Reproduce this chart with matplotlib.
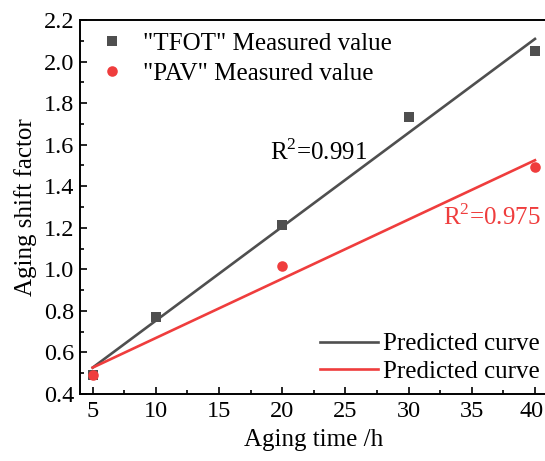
import matplotlib
matplotlib.use("Agg")
import matplotlib.pyplot as plt
from matplotlib.ticker import MultipleLocator, FormatStrFormatter, FuncFormatter

plt.rcParams['font.family'] = ['Liberation Serif', 'DejaVu Serif']
plt.rcParams['mathtext.fontset'] = 'custom'
plt.rcParams['mathtext.rm'] = 'Liberation Serif'

# Measured aging shift factors
tfot_time = [5, 10, 20, 30, 40]
tfot_value = [0.492, 0.772, 1.213, 1.733, 2.051]
pav_time = [5, 20, 40]
pav_value = [0.492, 1.016, 1.493]

# Fitted (predicted) lines, endpoints
fit_time = [5, 40]
tfot_fit = [0.527, 2.109]
pav_fit = [0.527, 1.525]

tfot_r2 = "0.991"
pav_r2 = "0.975"

GRAY = '#4f4f4f'
RED = '#ef3d3d'
FS = 18
TICK_FS = 17.5
X_MAX_TICK = 40

fig = plt.figure(figsize=(5.45, 4.61), dpi=100)
ax = fig.add_axes([80 / 545, 67 / 461, 467.6 / 545, 374 / 461])

l1, = ax.plot(fit_time, tfot_fit, color=GRAY, lw=1.9, zorder=2)
l2, = ax.plot(fit_time, pav_fit, color=RED, lw=1.9, zorder=2)
s1, = ax.plot(tfot_time, tfot_value, ls='none', marker='s', ms=6.6, mew=0,
              color=GRAY, zorder=3)
s2, = ax.plot(pav_time, pav_value, ls='none', marker='o', ms=7.6, mew=0,
              color=RED, zorder=3)

ax.set_xlim(4, 41)
ax.set_ylim(0.4, 2.2)
ax.xaxis.set_major_locator(MultipleLocator(5))
ax.xaxis.set_minor_locator(MultipleLocator(2.5))
ax.yaxis.set_major_locator(MultipleLocator(0.2))
ax.yaxis.set_minor_locator(MultipleLocator(0.1))
ax.yaxis.set_major_formatter(FormatStrFormatter('%.1f'))
# last x label is drawn separately, nudged left to stay inside the figure
ax.xaxis.set_major_formatter(
    FuncFormatter(lambda v, p: '' if abs(v - X_MAX_TICK) < 1e-6 else f'{v:g}'))
ax.tick_params(which='both', direction='in', labelsize=TICK_FS, width=1.2,
               top=False, right=False)
ax.tick_params(which='major', length=5)
ax.tick_params(which='minor', length=3)
ax.tick_params(axis='x', pad=5)
ax.tick_params(axis='y', pad=4)
for sp in ax.spines.values():
    sp.set_linewidth(1.4)

ax.annotate(f'{X_MAX_TICK}', xy=(X_MAX_TICK, 0),
            xycoords=('data', 'axes fraction'), xytext=(-2.5, -5),
            textcoords='offset points', ha='center', va='top',
            fontsize=TICK_FS)

ax.set_xlabel('Aging time /h', fontsize=FS, labelpad=5)
ax.set_ylabel('Aging shift factor', fontsize=FS, labelpad=5)

ax.text(19.0, 1.565, r'R$^{2}$=' + tfot_r2, fontsize=FS, color='black',
        va='center')
ax.text(32.7, 1.252, r'R$^{2}$=' + pav_r2, fontsize=FS, color=RED,
        va='center')

leg1 = ax.legend([s1, s2], ['"TFOT" Measured value', '"PAV" Measured value'],
                 loc='upper left', bbox_to_anchor=(0.042, 0.967),
                 frameon=False, fontsize=FS, handlelength=1.0,
                 handletextpad=0.74, labelspacing=0.3, borderpad=0,
                 borderaxespad=0)
ax.add_artist(leg1)
ax.legend([l1, l2], ['Predicted curve', 'Predicted curve'],
          loc='lower right', bbox_to_anchor=(0.984, 0.03),
          frameon=False, fontsize=FS, handlelength=2.32,
          handletextpad=0.2, labelspacing=0.2, borderpad=0,
          borderaxespad=0)

fig.savefig('out.png', dpi=100)
